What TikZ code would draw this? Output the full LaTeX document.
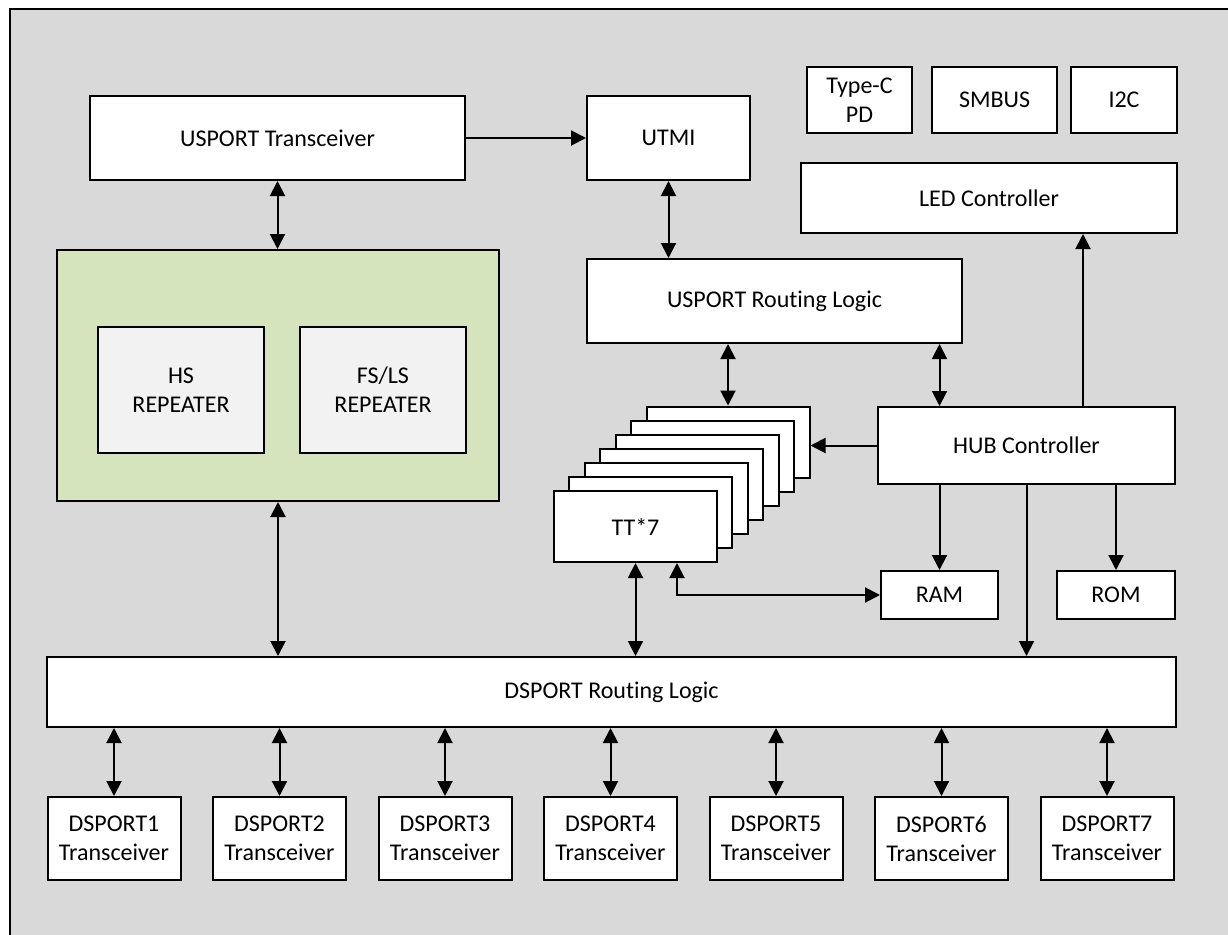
\documentclass[tikz,border=0pt]{standalone}
\usepackage{fontspec}
\setmainfont{Carlito}[Ligatures=NoCommon]
\usetikzlibrary{arrows.meta,calc}
\definecolor{bgc}{HTML}{D9D9D9}
\definecolor{greenc}{HTML}{D6E4BE}
\definecolor{innerc}{HTML}{F2F2F2}
\tikzset{
  box/.style={draw=black, fill=white, line width=2pt, inner sep=0pt, align=center,
    font=\fontsize{24}{29}\selectfont, anchor=center},
  arr/.style={line width=2pt, -{Triangle[length=15pt,width=15pt]}},
  darr/.style={line width=2pt, {Triangle[length=15pt,width=15pt]}-{Triangle[length=15pt,width=15pt]}},
}
\begin{document}
\begin{tikzpicture}[x=1pt,y=-1pt]
\useasboundingbox (0,0) rectangle (1228,934);
\clip (0,0) rectangle (1228,934);
\draw[line width=2pt, fill=bgc] (10,9) rectangle (1260,960);

% top row
\node[box, minimum width=375pt, minimum height=84pt] (ust) at (277.5,138) {USPORT Transceiver};
\node[box, minimum width=163pt, minimum height=84pt] (utmi) at (668.5,138) {UTMI};
\node[box, minimum width=105pt, minimum height=66pt] (typec) at (859.5,100) {Type-C\\PD};
\node[box, minimum width=125pt, minimum height=66pt] (smbus) at (994.5,100) {SMBUS};
\node[box, minimum width=106pt, minimum height=66pt] (i2c) at (1124,100) {I2C};
\node[box, minimum width=376pt, minimum height=70pt] (led) at (989,198) {LED Controller};

% repeater block
\node[box, fill=greenc, minimum width=442pt, minimum height=251pt] (green) at (278,375.5) {};
\node[box, fill=innerc, minimum width=166pt, minimum height=126pt] (hs) at (181,390) {HS\\REPEATER};
\node[box, fill=innerc, minimum width=166pt, minimum height=126pt] (fs) at (383,390) {FS/LS\\REPEATER};

% routing & hub
\node[box, minimum width=375pt, minimum height=84pt] (usrl) at (774.5,301) {USPORT Routing Logic};
\node[box, minimum width=297pt, minimum height=77pt] (hub) at (1026.5,445.5) {HUB Controller};
\node[box, minimum width=117pt, minimum height=48pt] (ram) at (939.5,595) {RAM};
\node[box, minimum width=118pt, minimum height=48pt] (rom) at (1116,595) {ROM};

% TT stack
\foreach \i in {0,...,5}{
  \node[box, minimum width=163pt, minimum height=71pt] (tt\i) at ({728-15.417*\i},{442+14.083*\i}) {};
}
\node[box, minimum width=163pt, minimum height=71pt] (tt6) at (635.5,526.5) {TT*7};

% DSPORT routing
\node[box, minimum width=1129pt, minimum height=70pt] (dsrl) at (611.5,692) {DSPORT Routing Logic};
\foreach \i in {1,...,7}{
  \node[box, minimum width=133pt, minimum height=83pt] (ds\i) at ({114+165.5*(\i-1)},838.5) {DSPORT\i\\Transceiver};
  \draw[darr] (ds\i.north |- dsrl.south) -- (ds\i.north);
}

\coordinate (ledx) at (1083,0);
\coordinate (ttx) at (677,0);

\draw[arr] (ust.east) -- (utmi.west);
\draw[darr] (ust.south) -- (ust.south |- green.north);
\draw[darr] (utmi.south) -- (utmi.south |- usrl.north);
\draw[darr] (tt0.north |- usrl.south) -- (tt0.north);
\draw[darr] (usrl.south -| ram.north) -- (hub.north -| ram.north);
\draw[arr] (hub.west) -- (hub.west -| tt0.east);
\draw[arr] (hub.north -| ledx) -- (led.south -| ledx);
\draw[arr] (hub.south -| ram.north) -- (ram.north);
\draw[arr] (hub.south -| rom.north) -- (rom.north);
\draw[arr] (hub.south) -- (hub.south |- dsrl.north);
\draw[darr] (green.south) -- (green.south |- dsrl.north);
\draw[darr] (tt6.south) -- (tt6.south |- dsrl.north);
\draw[darr] (tt6.south -| ttx) |- (ram.west);
\end{tikzpicture}
\end{document}
